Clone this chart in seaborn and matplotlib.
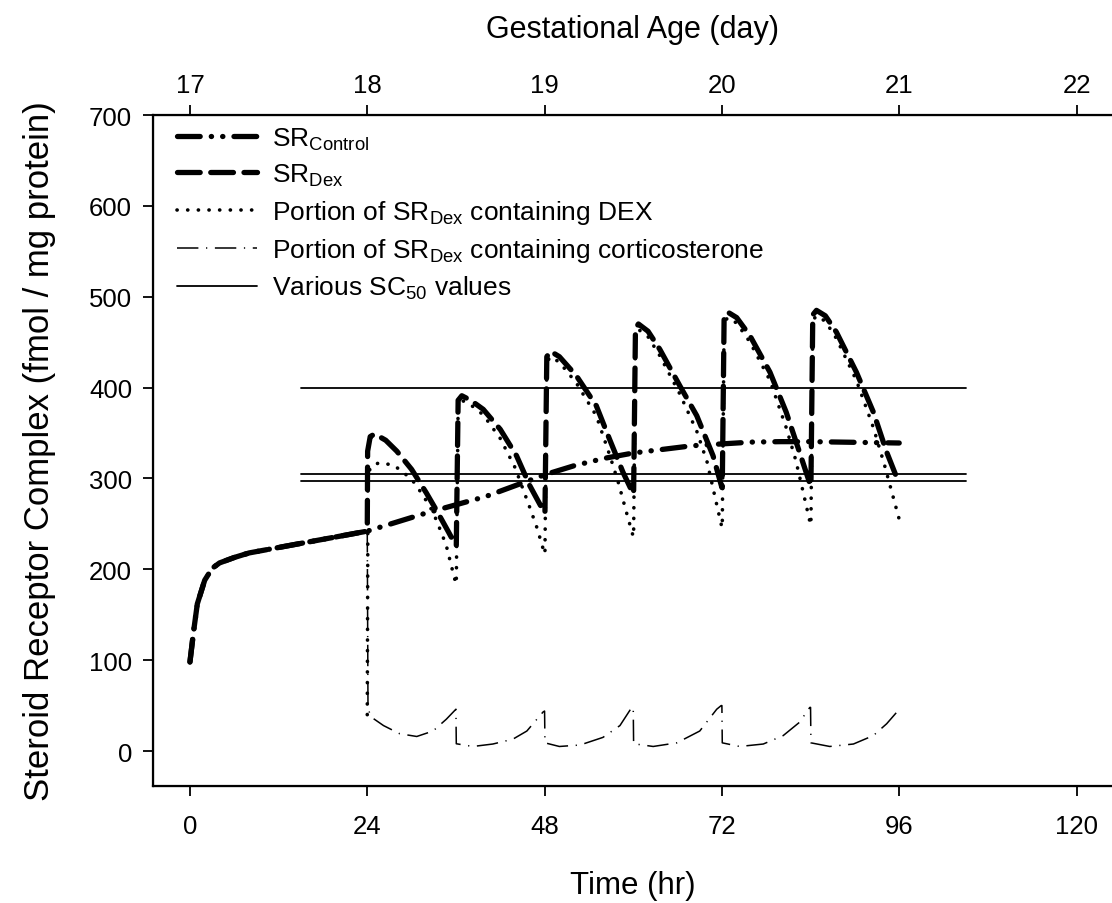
import pandas as pd
import matplotlib
matplotlib.use("Agg")
import matplotlib.pyplot as plt
import seaborn as sns

# time (hr) and receptor complex (fmol / mg protein)
control_t = [0, 0.5, 1, 2, 3, 4, 6, 8, 12, 16, 20, 24, 28, 32, 36, 40, 44, 48,
             52, 56, 60, 64, 68, 72, 76, 80, 84, 88, 92, 96]
control_v = [98, 132, 162, 188, 201, 207, 213, 218, 224, 230, 236, 242, 252, 262,
             271, 280, 292, 304, 314, 322, 328, 332, 336, 338, 340, 340.5, 340.5,
             340, 339.5, 339]

dex_t = [0, 0.5, 1, 2, 3, 4, 6, 8, 12, 16, 20, 24,
         24.05, 24.4, 25, 26.5, 28, 30, 32, 33.5, 35, 36,
         36.05, 36.3, 36.8, 38, 39.7, 42, 44.2, 46, 47, 48,
         48.05, 48.3, 48.8, 50, 52.3, 55, 56.8, 58.6, 60,
         60.05, 60.3, 60.7, 62, 63.6, 66.3, 68.6, 70.8, 72,
         72.05, 72.3, 72.8, 74, 75.8, 78.5, 80.7, 82.5, 84,
         84.05, 84.3, 84.8, 86, 87.5, 90.2, 92.5, 94.3, 96]
dex_v = [98, 132, 162, 188, 201, 207, 213, 218, 224, 230, 236, 242,
         330, 346, 349, 342, 330, 310, 284, 263, 241, 226,
         226, 386, 391, 386, 376, 354, 325, 292, 277, 262,
         262, 434, 440, 434, 413, 380, 343, 307, 283,
         283, 465, 470, 462, 442, 402, 369, 325, 290,
         290, 478, 483, 477, 457, 417, 373, 329, 292,
         292, 480, 485, 479, 461, 417, 373, 329, 294]

dexpart_t = [24, 24.1, 24.4, 25.5, 27.5, 29, 30.2, 31.5, 32.9, 34, 34.7, 35.5, 36,
             36.05, 36.3, 36.8, 38, 39.7, 42, 44, 46, 47, 48,
             48.05, 48.3, 48.8, 50, 52.3, 55, 56.8, 58, 59, 60,
             60.05, 60.3, 60.7, 62, 63.6, 66.3, 68.6, 70, 71, 72,
             72.05, 72.3, 72.8, 74, 75.8, 78.5, 80.7, 82, 83, 84,
             84.05, 84.3, 84.8, 86, 87.5, 90.2, 92.5, 94, 95, 96]
dexpart_v = [40, 300, 312, 317, 315, 306, 297, 282, 263, 241, 226, 200, 184,
             184, 381, 386, 381, 370, 344, 312, 268, 245, 217,
             217, 428, 434, 428, 405, 369, 326, 295, 265, 236,
             236, 459, 464, 456, 435, 393, 352, 318, 282, 246,
             246, 472, 477, 471, 450, 408, 356, 320, 285, 249,
             249, 474, 479, 473, 454, 408, 356, 315, 285, 255]

cort_t = [24, 24.1, 24.6, 26.2, 28.4, 30.7, 32.9, 34.7, 36,
          36.05, 38.3, 41, 43.7, 45.6, 47.8, 48,
          48.05, 50, 52.8, 55.9, 58.2, 59.8, 60,
          60.05, 62.7, 65.9, 69, 71.3, 71.9, 72,
          72.05, 74.4, 77.6, 80.3, 82.5, 83.9, 84,
          84.05, 86.6, 89.8, 92.5, 94.3, 95.8]
cort_v = [242, 46, 37, 28, 19, 16, 22, 35, 46,
          8, 5, 7.7, 13, 22, 43, 44,
          9, 5, 6.6, 15, 28, 48, 48,
          8, 5, 9, 22, 46, 50, 50,
          9, 5, 7.7, 17, 31.6, 48, 48,
          9, 5, 7.7, 17, 30, 44]

sc50_levels = [400, 305, 297]
sc50_span = [15, 105]

day_labels = ["17", "18", "19", "20", "21", "22"]
hour_ticks = [0, 24, 48, 72, 96, 120]

sns.set_style("ticks")
plt.rcParams["font.family"] = ["Liberation Sans", "DejaVu Sans"]
plt.rcParams["mathtext.fontset"] = "custom"
plt.rcParams["mathtext.rm"] = "Liberation Sans"
plt.rcParams["mathtext.it"] = "Liberation Sans:italic"
plt.rcParams["mathtext.bf"] = "Liberation Sans:bold"
for key in ["text.color", "axes.labelcolor", "xtick.color", "ytick.color", "axes.edgecolor"]:
    plt.rcParams[key] = "black"

fig = plt.figure(figsize=(11.12, 9.04), dpi=100)
ax = fig.add_axes([153 / 1112, 117 / 904, 959 / 1112, 671 / 904])

lines = {
    "control": pd.DataFrame({"t": control_t, "v": control_v}),
    "dex": pd.DataFrame({"t": dex_t, "v": dex_v}),
    "dexpart": pd.DataFrame({"t": dexpart_t, "v": dexpart_v}),
    "cort": pd.DataFrame({"t": cort_t, "v": cort_v}),
}

common = dict(x="t", y="v", ax=ax, color="black", estimator=None, sort=False)

sns.lineplot(data=lines["cort"], lw=1.1, linestyle=(0, (14, 5, 0.8, 5)),
             label=r"Portion of SR$_{\mathrm{Dex}}$ containing corticosterone", **common)
sns.lineplot(data=lines["dexpart"], lw=2.6, linestyle=(0, (0.05, 2.9)),
             dash_capstyle="round", label=r"Portion of SR$_{\mathrm{Dex}}$ containing DEX", **common)
sns.lineplot(data=lines["dex"], lw=3.8, linestyle=(0, (4.3, 2.0)),
             dash_capstyle="round", label=r"SR$_{\mathrm{Dex}}$", **common)
sns.lineplot(data=lines["control"], lw=3.8, linestyle=(0, (4.3, 2.1, 0.05, 2.1, 0.05, 2.1)),
             dash_capstyle="round", label=r"SR$_{\mathrm{Control}}$", **common)

for i, lvl in enumerate(sc50_levels):
    sns.lineplot(x=sc50_span, y=[lvl, lvl], ax=ax, color="black", lw=1.3,
                 label=r"Various SC$_{50}$ values" if i == 0 else None)

ax.set_xlim(-5.0, 124.8)
ax.set_ylim(-38.5, 700)
ax.set_xticks(hour_ticks)
ax.set_yticks(range(0, 701, 100))
ax.set_xlabel("Time (hr)", fontsize=22.5, labelpad=23)
ax.set_ylabel("Steroid Receptor Complex (fmol / mg protein)", fontsize=25, labelpad=24)
ax.tick_params(axis="x", direction="out", length=7, width=1.3, labelsize=18.5, pad=13)
ax.tick_params(axis="y", direction="out", length=7, width=1.3, labelsize=18.5, pad=8)
for s in ["left", "bottom"]:
    ax.spines[s].set_linewidth(1.6)
ax.spines["right"].set_visible(False)

top = ax.twiny()
top.set_xlim(ax.get_xlim())
top.set_xticks(hour_ticks)
top.set_xticklabels(day_labels)
top.set_xlabel("Gestational Age (day)", fontsize=22, labelpad=26)
top.tick_params(axis="x", direction="out", length=7, width=1.3, labelsize=18.5, pad=6)
top.spines["top"].set_linewidth(1.6)
top.spines["right"].set_visible(False)

handles, labels = ax.get_legend_handles_labels()
order = [r"SR$_{\mathrm{Control}}$", r"SR$_{\mathrm{Dex}}$",
         r"Portion of SR$_{\mathrm{Dex}}$ containing DEX",
         r"Portion of SR$_{\mathrm{Dex}}$ containing corticosterone",
         r"Various SC$_{50}$ values"]
hmap = dict(zip(labels, handles))
ax.legend([hmap[k] for k in order], order, loc="upper left", bbox_to_anchor=(0.009, 1.008),
          frameon=False, fontsize=19, handlelength=3.0, handletextpad=0.6,
          labelspacing=0.38, borderaxespad=0.2)

fig.savefig("out.png", dpi=100)
